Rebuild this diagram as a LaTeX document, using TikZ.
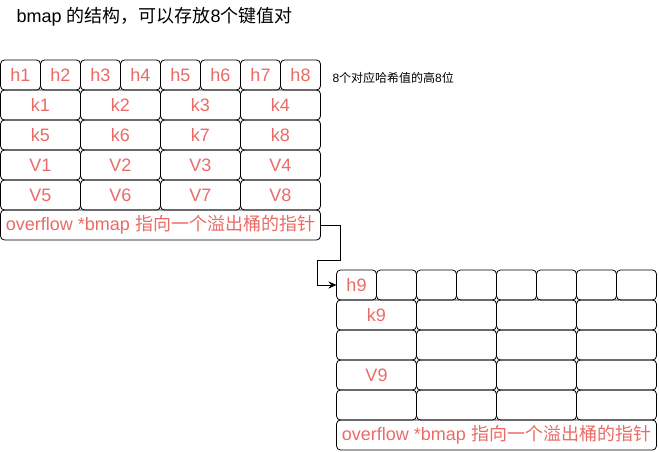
\documentclass[tikz,border=0pt]{standalone}
\usepackage{fontspec}
\setmainfont{Liberation Sans}
\newfontfamily\cjk{Noto Sans CJK SC}
\usetikzlibrary{arrows.meta}
\definecolor{cellred}{HTML}{EA6B66}
\tikzset{cell/.style={draw, line width=0.8pt, rounded corners=4pt, minimum height=30pt,
    inner sep=0pt, outer sep=0pt, text=cellred, font=\fontsize{18}{21}\selectfont}}
\tikzset{hcell/.style={cell, minimum width=40pt}}
\tikzset{kvcell/.style={cell, minimum width=80pt}}
\tikzset{ovcell/.style={cell, minimum width=320pt}}

\begin{document}
\begin{tikzpicture}[x=1pt,y=-1pt]
  \useasboundingbox (0,0) rectangle (659,452);
  \node[anchor=west, font=\fontsize{18}{21}\selectfont] at (13,17) (title) {bmap {\cjk 的结构，可以存放}8{\cjk 个键值对}};

  % bmap
  \node[hcell] at (20.5,75) (h1) {h1};
  \node[hcell] at (60.5,75) (h2) {h2};
  \node[hcell] at (100.5,75) (h3) {h3};
  \node[hcell] at (140.5,75) (h4) {h4};
  \node[hcell] at (180.5,75) (h5) {h5};
  \node[hcell] at (220.5,75) (h6) {h6};
  \node[hcell] at (260.5,75) (h7) {h7};
  \node[hcell] at (300.5,75) (h8) {h8};
  \node[anchor=west, font=\fontsize{12}{14}\selectfont] at (329,78) (note) {8{\cjk 个对应哈希值的高}8{\cjk 位}};

  \node[kvcell] at (40.5,105) (k1) {k1};
  \node[kvcell] at (120.5,105) (k2) {k2};
  \node[kvcell] at (200.5,105) (k3) {k3};
  \node[kvcell] at (280.5,105) (k4) {k4};
  \node[kvcell] at (40.5,135) (k5) {k5};
  \node[kvcell] at (120.5,135) (k6) {k6};
  \node[kvcell] at (200.5,135) (k7) {k7};
  \node[kvcell] at (280.5,135) (k8) {k8};
  \node[kvcell] at (40.5,165) (v1) {V1};
  \node[kvcell] at (120.5,165) (v2) {V2};
  \node[kvcell] at (200.5,165) (v3) {V3};
  \node[kvcell] at (280.5,165) (v4) {V4};
  \node[kvcell] at (40.5,195) (v5) {V5};
  \node[kvcell] at (120.5,195) (v6) {V6};
  \node[kvcell] at (200.5,195) (v7) {V7};
  \node[kvcell] at (280.5,195) (v8) {V8};
  \node[ovcell] at (160.5,225) (ov1) {overflow *bmap {\cjk 指向一个溢出桶的指针}};

  % overflow bucket
  \begin{scope}[shift={(336.5,210)}]
    \node[hcell] at (20,75) (h9) {h9};
    \node[hcell] at (60,75) (r0c2) {};
    \node[hcell] at (100,75) (r0c3) {};
    \node[hcell] at (140,75) (r0c4) {};
    \node[hcell] at (180,75) (r0c5) {};
    \node[hcell] at (220,75) (r0c6) {};
    \node[hcell] at (260,75) (r0c7) {};
    \node[hcell] at (300,75) (r0c8) {};

    \node[kvcell] at (40,105) (k9) {k9};
    \node[kvcell] at (120,105) (r1c2) {};
    \node[kvcell] at (200,105) (r1c3) {};
    \node[kvcell] at (280,105) (r1c4) {};
    \node[kvcell] at (40,135) (r2c1) {};
    \node[kvcell] at (120,135) (r2c2) {};
    \node[kvcell] at (200,135) (r2c3) {};
    \node[kvcell] at (280,135) (r2c4) {};
    \node[kvcell] at (40,165) (v9) {V9};
    \node[kvcell] at (120,165) (r3c2) {};
    \node[kvcell] at (200,165) (r3c3) {};
    \node[kvcell] at (280,165) (r3c4) {};
    \node[kvcell] at (40,195) (r4c1) {};
    \node[kvcell] at (120,195) (r4c2) {};
    \node[kvcell] at (200,195) (r4c3) {};
    \node[kvcell] at (280,195) (r4c4) {};
    \node[ovcell] at (160,225) (ov2) {overflow *bmap {\cjk 指向一个溢出桶的指针}};
  \end{scope}

  % pointer to the overflow bucket
  \draw[line width=0.8pt, -{Stealth[length=8pt,width=7pt]}] (ov1.east) -- ++(20,0) -- ++(0,35) -- ++(-23,0) |- (h9.west);
\end{tikzpicture}
\end{document}
